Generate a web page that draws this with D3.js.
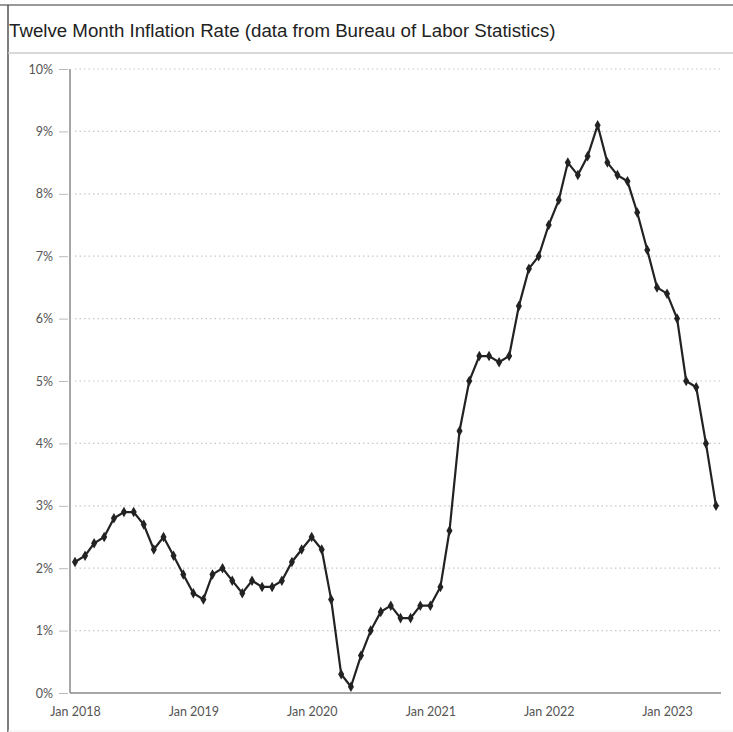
<!DOCTYPE html>
<html>
<head>
<meta charset="utf-8">
<script src="https://cdn.jsdelivr.net/npm/d3@7"></script>
<style>
  html, body { margin: 0; padding: 0; background: #fff; }
  svg { display: block; }
</style>
</head>
<body>
<svg id="chart" width="733" height="732"></svg>
<script>
const title = "Twelve Month Inflation Rate (data from Bureau of Labor Statistics)";
const startMonth = "2018-01";
const inflation = [
  2.1, 2.2, 2.4, 2.5, 2.8, 2.9, 2.9, 2.7, 2.3, 2.5, 2.2, 1.9,
  1.6, 1.5, 1.9, 2.0, 1.8, 1.6, 1.8, 1.7, 1.7, 1.8, 2.1, 2.3,
  2.5, 2.3, 1.5, 0.3, 0.1, 0.6, 1.0, 1.3, 1.4, 1.2, 1.2, 1.4,
  1.4, 1.7, 2.6, 4.2, 5.0, 5.4, 5.4, 5.3, 5.4, 6.2, 6.8, 7.0,
  7.5, 7.9, 8.5, 8.3, 8.6, 9.1, 8.5, 8.3, 8.2, 7.7, 7.1, 6.5,
  6.4, 6.0, 5.0, 4.9, 4.0, 3.0
];
const yTicks = [0, 1, 2, 3, 4, 5, 6, 7, 8, 9, 10];
const xTickYears = [2018, 2019, 2020, 2021, 2022, 2023];

const parse = d3.timeParse("%Y-%m");
const start = parse(startMonth);
const data = inflation.map((v, i) => ({ date: d3.timeMonth.offset(start, i), value: v }));

const svg = d3.select("#chart");

// frame
svg.append("line").attr("x1", 0).attr("x2", 733).attr("y1", 5).attr("y2", 5)
  .attr("stroke", "#777").attr("stroke-width", 1.5);
svg.append("line").attr("x1", 8).attr("x2", 8).attr("y1", 5).attr("y2", 732)
  .attr("stroke", "#555").attr("stroke-width", 1.5);
svg.append("line").attr("x1", 8).attr("x2", 733).attr("y1", 53).attr("y2", 53)
  .attr("stroke", "#ccc").attr("stroke-width", 1.5);
svg.append("line").attr("x1", 8).attr("x2", 733).attr("y1", 731).attr("y2", 731)
  .attr("stroke", "#eee").attr("stroke-width", 1);

svg.append("text")
  .attr("x", 9).attr("y", 37)
  .attr("font-family", "'Liberation Sans', Arial, sans-serif")
  .attr("font-size", 18.7)
  .attr("fill", "#222")
  .text(title);

const x = d3.scaleTime()
  .domain([start, d3.timeMonth.offset(start, inflation.length - 1)])
  .range([75, 716]);
const y = d3.scaleLinear().domain([0, 10]).range([693, 69]);

// gridlines
svg.append("g").selectAll("line").data(yTicks.filter(d => d > 0)).join("line")
  .attr("x1", 75).attr("x2", 722)
  .attr("y1", d => y(d)).attr("y2", d => y(d))
  .attr("stroke", "#c8c8c8").attr("stroke-width", 1.2)
  .attr("stroke-dasharray", "1.5,3");

// y axis
const yAxis = d3.axisLeft(y).tickValues(yTicks).tickFormat(d => d + "%").tickSize(10).tickPadding(7);
const gy = svg.append("g").attr("transform", "translate(70,0)").call(yAxis);
gy.select(".domain").remove();
gy.selectAll(".tick line").attr("stroke", "#bbb").attr("x2", -2).attr("x1", -11);
gy.selectAll(".tick text")
  .attr("font-family", "Lato, 'Open Sans', sans-serif")
  .attr("font-size", 12.5).attr("fill", "#555").attr("x", -17);
svg.append("line").attr("x1", 70).attr("x2", 70).attr("y1", 69).attr("y2", 693)
  .attr("stroke", "#888").attr("stroke-width", 1.5);

// x axis
const xAxis = d3.axisBottom(x)
  .tickValues(xTickYears.map(yr => new Date(yr, 0, 1)))
  .tickFormat(d3.timeFormat("Jan %Y"))
  .tickSize(0).tickPadding(14);
const gx = svg.append("g").attr("transform", "translate(0,693)").call(xAxis);
gx.select(".domain").remove();
gx.selectAll(".tick text")
  .attr("font-family", "Lato, 'Open Sans', sans-serif")
  .attr("font-size", 12.5).attr("fill", "#555");
svg.append("line").attr("x1", 70).attr("x2", 721).attr("y1", 693).attr("y2", 693)
  .attr("stroke", "#888").attr("stroke-width", 1.5);

// line
const line = d3.line().x(d => x(d.date)).y(d => y(d.value));
svg.append("path").datum(data)
  .attr("d", line).attr("fill", "none")
  .attr("stroke", "#222").attr("stroke-width", 2.2);

svg.append("g").selectAll("path").data(data).join("path")
  .attr("transform", d => `translate(${x(d.date)},${y(d.value)})`)
  .attr("d", d3.symbol().type(d3.symbolDiamond).size(32))
  .attr("fill", "#222");
</script>
</body>
</html>
